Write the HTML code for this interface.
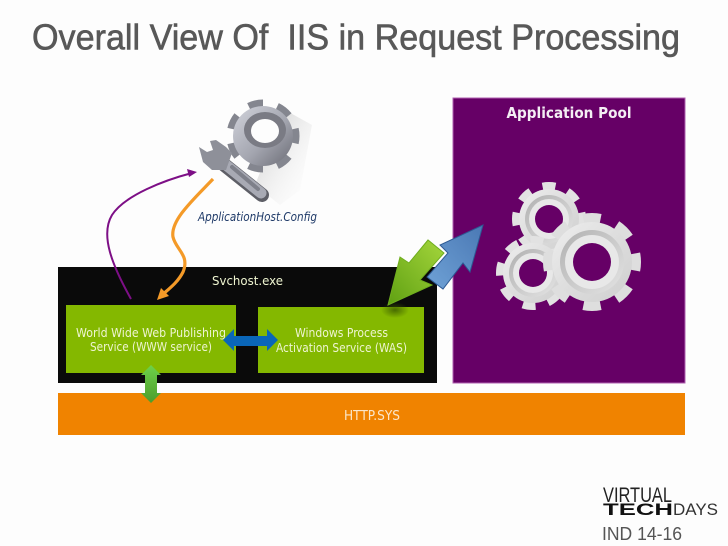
<!DOCTYPE html>
<html><head><meta charset="utf-8"><style>
html,body{margin:0;padding:0;background:#fdfdfd;width:728px;height:546px;overflow:hidden}
svg{display:block}
text{font-family:"Liberation Sans",sans-serif}
.w{font-family:"DejaVu Sans",sans-serif;fill:#eef4d0;font-size:12.5px}
</style></head><body>
<svg width="728" height="546" viewBox="0 0 728 546" xmlns="http://www.w3.org/2000/svg">
<defs>
<linearGradient id="metal" x1="0" y1="0" x2="1" y2="1"><stop offset="0" stop-color="#eeeeee"/><stop offset=".5" stop-color="#dddddd"/><stop offset="1" stop-color="#cfcfcf"/></linearGradient>
<linearGradient id="ring" x1="0" y1="0" x2="1" y2="1"><stop offset="0" stop-color="#b0b0b0"/><stop offset="1" stop-color="#e4e4e4"/></linearGradient>
<linearGradient id="steel" x1="0" y1="0" x2="1" y2="1"><stop offset="0" stop-color="#d2d4dc"/><stop offset=".55" stop-color="#a4a6b0"/><stop offset="1" stop-color="#6a6b74"/></linearGradient>
<linearGradient id="gr" x1="1" y1="0" x2="0" y2="1"><stop offset="0" stop-color="#a5d63c"/><stop offset="1" stop-color="#5fa012"/></linearGradient>
<linearGradient id="bl" x1="1" y1="0" x2="0" y2="1"><stop offset="0" stop-color="#4a78b4"/><stop offset="1" stop-color="#6fa2d6"/></linearGradient>
<linearGradient id="gv" x1="0" y1="0" x2="0" y2="1"><stop offset="0" stop-color="#6ed24a"/><stop offset="1" stop-color="#4c9c2c"/></linearGradient>
<linearGradient id="shade" x1="0" y1="0" x2="1" y2="1"><stop offset="0" stop-color="#aaa" stop-opacity=".7"/><stop offset="1" stop-color="#fdfdfd" stop-opacity="0"/></linearGradient>
<radialGradient id="sh"><stop offset="0" stop-color="#3a5a00" stop-opacity=".8"/><stop offset="1" stop-color="#3a5a00" stop-opacity="0"/></radialGradient>
</defs>

<text x="32" y="49.5" font-size="36" fill="#585858" stroke="#585858" stroke-width=".6" textLength="648" lengthAdjust="spacingAndGlyphs" xml:space="preserve">Overall View Of  IIS in Request Processing</text>

<!-- pool -->
<rect x="453" y="98" width="232" height="285" fill="#660066" stroke="#b060b0" stroke-width="1"/>
<text x="569" y="118" text-anchor="middle" font-size="15" font-weight="bold" fill="#f4eef4" style="font-family:'DejaVu Sans',sans-serif" textLength="125" lengthAdjust="spacingAndGlyphs">Application Pool</text>

<!-- gear A -->
<g>
<circle cx="549" cy="219" r="32" fill="none" stroke="#e2e2e2" stroke-width="10" pathLength="16" stroke-dasharray="1 1" stroke-dashoffset=".5"/>
<circle cx="549" cy="219" r="30" fill="url(#metal)"/>
<circle cx="549" cy="219" r="24" fill="url(#ring)"/>
<circle cx="549" cy="219" r="20" fill="#e8e8e8"/>
<circle cx="549" cy="219" r="14" fill="#660066"/>
</g>
<!-- gear B -->
<g>
<circle cx="533" cy="273" r="32" fill="none" stroke="#e2e2e2" stroke-width="10" pathLength="16" stroke-dasharray="1 1" stroke-dashoffset=".2"/>
<circle cx="533" cy="273" r="30" fill="url(#metal)"/>
<circle cx="533" cy="273" r="24" fill="url(#ring)"/>
<circle cx="533" cy="273" r="20" fill="#e8e8e8"/>
<circle cx="533" cy="273" r="14" fill="#660066"/>
</g>
<!-- gear C -->
<g>
<circle cx="592" cy="262" r="43" fill="none" stroke="#dedede" stroke-width="12" pathLength="16" stroke-dasharray="1 1" stroke-dashoffset=".5"/>
<circle cx="592" cy="262" r="40" fill="url(#metal)"/>
<circle cx="592" cy="262" r="32" fill="url(#ring)"/>
<circle cx="592" cy="262" r="27" fill="#e8e8e8"/>
<circle cx="592" cy="262" r="19" fill="#660066"/>
</g>

<!-- wrench + gear -->
<polygon points="285,110 312,125 300,190 280,205 255,185" fill="url(#shade)"/>
<g>
<circle cx="263" cy="136" r="32" fill="none" stroke="#84868f" stroke-width="9" pathLength="14" stroke-dasharray="1 1" stroke-dashoffset=".5"/>
<circle cx="263" cy="136" r="30" fill="url(#steel)"/>
<ellipse cx="265" cy="130" rx="21" ry="18" fill="#7a7b84"/>
<ellipse cx="265" cy="131" rx="14" ry="12" fill="#fdfdfd"/>
</g>
<line x1="222" y1="163" x2="262" y2="195" stroke="#5e5f67" stroke-width="14" stroke-linecap="round"/>
<line x1="221" y1="161" x2="261" y2="193" stroke="#a8aab4" stroke-width="11" stroke-linecap="round"/>
<line x1="232" y1="167" x2="258" y2="189" stroke="#7e808a" stroke-width="4" stroke-linecap="round"/>
<polygon points="199,147 207,152 213,150 210,141 216,140 226,147 232,153 226,170 212,170 203,162" fill="#8e9099"/>
<text x="198" y="221" font-size="12" font-style="italic" fill="#1f3a68" style="font-family:'DejaVu Sans',sans-serif" textLength="119" lengthAdjust="spacingAndGlyphs">ApplicationHost.Config</text>

<!-- svchost -->
<rect x="58" y="267" width="379" height="116" fill="#0a0a0a"/>
<text class="w" x="212" y="285" textLength="71" lengthAdjust="spacingAndGlyphs">Svchost.exe</text>
<rect x="66" y="305" width="170" height="68" fill="#84b800"/>
<rect x="258" y="307" width="166" height="66" fill="#84b800"/>
<ellipse cx="395" cy="310" rx="14" ry="8" fill="url(#sh)"/>
<text class="w" x="76" y="337" textLength="150" lengthAdjust="spacingAndGlyphs">World Wide Web Publishing</text>
<text class="w" x="90" y="351" textLength="122" lengthAdjust="spacingAndGlyphs">Service (WWW service)</text>
<text class="w" x="295" y="337" textLength="93" lengthAdjust="spacingAndGlyphs">Windows Process</text>
<text class="w" x="276" y="352" textLength="131" lengthAdjust="spacingAndGlyphs">Activation Service (WAS)</text>

<!-- http.sys -->
<rect x="58" y="393" width="627" height="42" fill="#f08300"/>
<text x="344" y="420" font-size="13" fill="#fbe6c8" style="font-family:'DejaVu Sans',sans-serif" textLength="56" lengthAdjust="spacingAndGlyphs">HTTP.SYS</text>

<!-- curves -->
<path d="M131 299 C112 265 100 235 112 215 C125 195 165 180 192 173" fill="none" stroke="#7d0f86" stroke-width="2"/>
<polygon points="197,172 187,169 189,177" fill="#7d0f86"/>
<path d="M213 179 C195 198 170 220 173 237 C176 250 190 255 183 272 C178 282 170 288 162 295" fill="none" stroke="#f49a28" stroke-width="3.2"/>
<polygon points="157,300 161,288 169,296" fill="#f49a28"/>

<!-- double arrows -->
<polygon points="223,340 234,329 234,336 267,336 267,329 278,340 267,351 267,346 234,346 234,351" fill="#0a66b8"/>
<polygon points="151,365 161,375 157,375 157,393 161,393 151,403 141,393 145,393 145,375 141,375" fill="url(#gv)"/>

<!-- big arrows -->
<polygon points="388,305 400,257 409,263 428,240 444,253 420,280 432,285" fill="url(#gr)" stroke="#6fae1e" stroke-width="1"/>
<polygon points="483,225 470,272 463,263 443,289 427,277 448,253 440,245" fill="url(#bl)" stroke="#2d5a94" stroke-width="1"/>

<!-- logo -->
<text x="603" y="502" font-size="21" fill="#222" textLength="69" lengthAdjust="spacingAndGlyphs">VIRTUAL</text>
<text x="603" y="515" font-size="17" font-weight="bold" fill="#111" textLength="70" lengthAdjust="spacingAndGlyphs">TECH</text>
<text x="673" y="515" font-size="17" fill="#333" textLength="45" lengthAdjust="spacingAndGlyphs">DAYS</text>
<text x="602" y="540" font-size="18" fill="#555" textLength="80" lengthAdjust="spacingAndGlyphs">IND 14-16</text>
</svg>
</body></html>
